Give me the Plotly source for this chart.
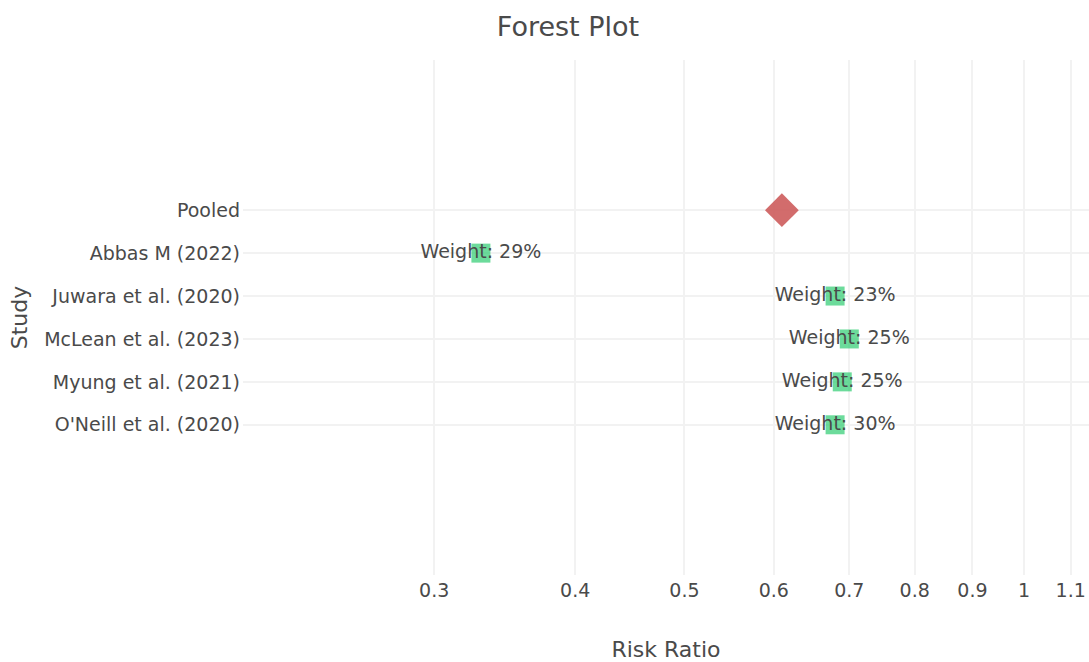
import plotly.graph_objects as go

# Study labels, bottom to top
studies = ["O'Neill et al. (2020)", "Myung et al. (2021)", "McLean et al. (2023)",
           "Juwara et al. (2020)", "Abbas M (2022)"]
risk_ratios = [0.68, 0.69, 0.70, 0.68, 0.33]
weights = [30, 25, 25, 23, 29]

pooled_label = "Pooled"
pooled_rr = 0.61

tick_values = [0.3, 0.4, 0.5, 0.6, 0.7, 0.8, 0.9, 1, 1.1]
tick_labels = ["0.3", "0.4", "0.5", "0.6", "0.7", "0.8", "0.9", "1", "1.1"]

FONT = "DejaVu Sans, Verdana, sans-serif"
TEXT = "#4a4a4a"
GRID = "#f2f2f2"

fig = go.Figure()

fig.add_trace(go.Scatter(
    x=risk_ratios,
    y=studies,
    mode="markers+text",
    marker=dict(symbol="square", size=19, color="#2ecc71", opacity=0.7),
    text=[f"Weight: {w}%" for w in weights],
    textposition="middle center",
    textfont=dict(family=FONT, size=19, color=TEXT),
    showlegend=False,
))

fig.add_trace(go.Scatter(
    x=[pooled_rr],
    y=[pooled_label],
    mode="markers",
    marker=dict(symbol="diamond", size=26, color="indianred", opacity=0.9),
    showlegend=False,
))

fig.update_layout(
    width=1089,
    height=662,
    margin=dict(l=243, r=0, t=60, b=87),
    paper_bgcolor="white",
    plot_bgcolor="white",
    font=dict(family=FONT, size=19, color=TEXT),
    title=dict(text="Forest Plot", x=568 / 1089, xanchor="center",
               y=1 - 27 / 662, yanchor="middle", font=dict(size=27, color=TEXT)),
    xaxis=dict(
        type="log",
        range=[-0.6924, 0.0576],
        tickvals=tick_values,
        ticktext=tick_labels,
        ticklabelstandoff=2,
        showgrid=True,
        gridcolor=GRID,
        gridwidth=1.5,
        zeroline=False,
        showline=False,
        title=dict(text="Risk Ratio", font=dict(size=22), standoff=46),
    ),
    yaxis=dict(
        type="category",
        categoryorder="array",
        categoryarray=studies + [pooled_label],
        range=[-3.5, 8.5],
        ticklabelstandoff=2,
        showgrid=True,
        gridcolor=GRID,
        gridwidth=1.5,
        zeroline=False,
        showline=False,
        title=dict(text="Study", font=dict(size=22), standoff=10),
    ),
)

fig.write_html("out.html")
